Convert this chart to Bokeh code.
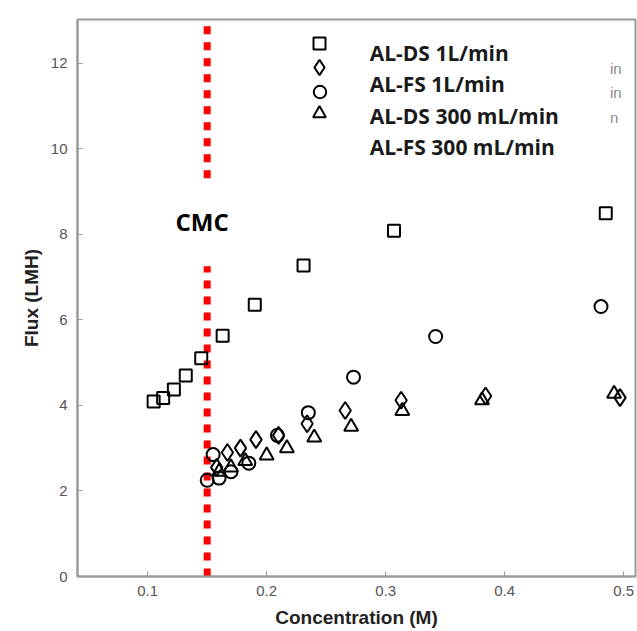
from bokeh.plotting import figure
from bokeh.models import Range1d, FixedTicker, Label, Legend, LegendItem
from bokeh.embed import file_html
from bokeh.resources import INLINE

# ---- data ----
series_names = ["AL-DS 1L/min", "AL-FS 1L/min", "AL-DS 300 mL/min", "AL-FS 300 mL/min"]

ds1_x = [0.105, 0.113, 0.122, 0.132, 0.145, 0.163, 0.190, 0.231, 0.307, 0.485]
ds1_y = [4.09, 4.17, 4.37, 4.70, 5.10, 5.63, 6.35, 7.27, 8.08, 8.49]

fs1_x = [0.158, 0.167, 0.178, 0.191, 0.210, 0.234, 0.266, 0.313, 0.384, 0.497]
fs1_y = [2.55, 2.90, 3.00, 3.20, 3.30, 3.57, 3.88, 4.12, 4.22, 4.18]

ds300_x = [0.150, 0.155, 0.160, 0.170, 0.185, 0.209, 0.235, 0.273, 0.342, 0.481]
ds300_y = [2.25, 2.85, 2.30, 2.45, 2.65, 3.30, 3.83, 4.66, 5.61, 6.31]

fs300_x = [0.160, 0.170, 0.182, 0.200, 0.217, 0.240, 0.271, 0.314, 0.381, 0.492]
fs300_y = [2.45, 2.55, 2.70, 2.83, 3.00, 3.25, 3.50, 3.87, 4.12, 4.27]

cmc = 0.15
cmc_upper_y = [12.86, 9.2]
cmc_lower_y = [0.0, 7.25]

x_ticks = [0.1, 0.2, 0.3, 0.4, 0.5]
y_ticks = [0, 2, 4, 6, 8, 10, 12]

# ---- figure ----
p = figure(width=637, height=631, output_backend="svg", toolbar_location=None,
           x_range=Range1d(0.041, 0.510), y_range=Range1d(0, 13.02),
           min_border_left=77, min_border_right=2, min_border_top=19, min_border_bottom=55)
p.background_fill_color = "white"
p.border_fill_color = "white"
p.grid.visible = False
p.outline_line_color = "#9a9a9a"
p.outline_line_width = 2

for ax in (p.xaxis[0], p.yaxis[0]):
    ax.axis_line_color = "#9a9a9a"
    ax.axis_line_width = 2
    ax.major_tick_line_color = "#9a9a9a"
    ax.major_tick_in = 5
    ax.major_tick_out = 0
    ax.minor_tick_line_color = None
    ax.major_label_text_font = "Liberation Sans"
    ax.major_label_text_font_size = "15px"
    ax.major_label_text_color = "#555555"
    ax.axis_label_text_font = "Liberation Sans"
    ax.axis_label_text_font_style = "bold"
    ax.axis_label_text_font_size = "19px"
    ax.axis_label_text_color = "#222222"

p.xaxis.ticker = FixedTicker(ticks=x_ticks)
p.yaxis.ticker = FixedTicker(ticks=y_ticks)
p.xaxis.axis_label = "Concentration (M)"
p.yaxis.axis_label = "Flux (LMH)"
p.xaxis.major_label_standoff = 9
p.xaxis.axis_label_standoff = 8
p.yaxis.major_label_standoff = 10
p.yaxis.axis_label_standoff = 6

# CMC line
p.line([cmc, cmc], cmc_upper_y, line_color="red", line_width=7, line_dash="8 8")
p.line([cmc, cmc], cmc_lower_y, line_color="red", line_width=7, line_dash="8 8")

common = dict(fill_color=None, line_color="black", line_width=2)
r1 = p.scatter(ds1_x, ds1_y, marker="square", size=12, **common)
r2 = p.scatter(fs1_x, fs1_y, marker="diamond", size=17, **common)
r3 = p.scatter(ds300_x, ds300_y, marker="circle", size=13, **common)
r4 = p.scatter(fs300_x, fs300_y, marker="triangle", size=14, **common)

# legend keys: one small legend per series, stacked like the original
key_specs = [(r1, 30, 43), (r2, 38, 67), (r3, 31, 92), (r4, 32, 113)]
for r, box, cy in key_specs:
    lg = Legend(items=[LegendItem(label="", renderers=[r])],
                location=(319 - 77 - box // 2, 576 - cy - box // 2),
                glyph_width=box, glyph_height=box, spacing=0,
                padding=0, margin=0, label_width=0, label_standoff=0, label_height=10,
                border_line_color=None, background_fill_alpha=0)
    p.add_layout(lg)

# legend texts
label_y = [12.24, 11.52, 10.76, 10.03]
for name, ly in zip(series_names, label_y):
    p.add_layout(Label(x=0.2866, y=ly, text=name, text_font="Open Sans",
                       text_font_style="bold", text_font_size="21px",
                       text_baseline="middle", text_color="#1a1a1a"))

# ghost remnants at right
for t, gy in zip(["in", "in", "n"], [11.87, 11.31, 10.72]):
    p.add_layout(Label(x=0.4885, y=gy, text=t, text_font="Liberation Sans",
                       text_font_size="15px", text_baseline="middle", text_color="#8a8a8a"))

p.add_layout(Label(x=cmc, y=8.3, x_offset=-5, text="CMC", text_font="Open Sans",
                   text_font_style="bold", text_font_size="24px",
                   text_align="center", text_baseline="middle", text_color="black"))

open("out.html", "w").write(file_html(p, INLINE))
